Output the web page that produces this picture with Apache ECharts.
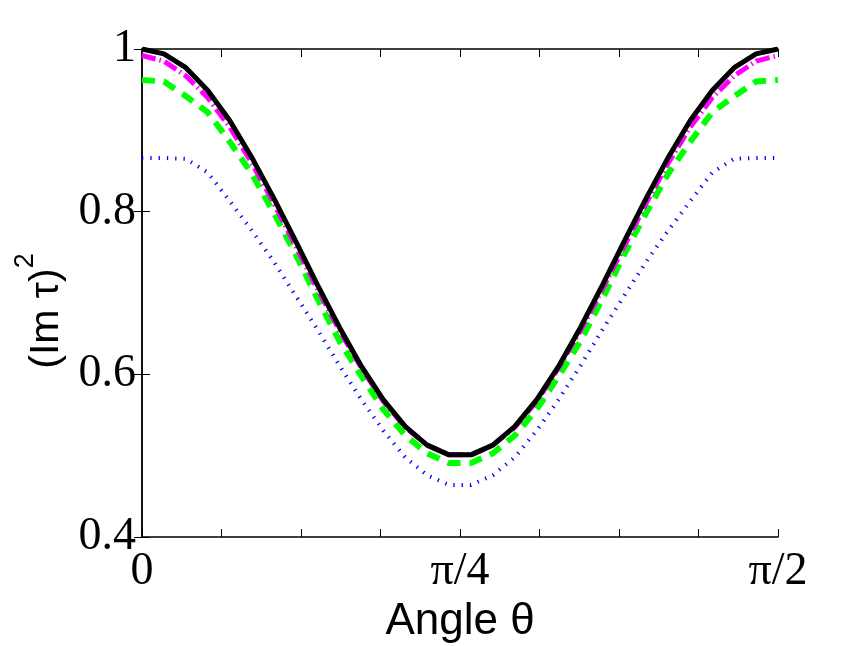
<!DOCTYPE html>
<html><head><meta charset="utf-8">
<script src="https://cdn.jsdelivr.net/npm/echarts@6/dist/echarts.min.js"></script>
<style>html,body{margin:0;padding:0;background:#fff}#c{width:858px;height:646px}</style>
</head><body><div id="c"></div>
<script>
// Sample angles (radians), 30 samples from 0 to pi/2
const theta = [0, 0.0542, 0.1083, 0.1625, 0.2167, 0.2708, 0.3250, 0.3792, 0.4333, 0.4875,
  0.5417, 0.5958, 0.6500, 0.7042, 0.7583, 0.8125, 0.8666, 0.9208, 0.9750, 1.0291,
  1.0833, 1.1375, 1.1916, 1.2458, 1.3000, 1.3541, 1.4083, 1.4625, 1.5166, 1.5708];

// (Im tau)^2 values
const blackSolid = [1.000, 0.994, 0.977, 0.949, 0.912, 0.867, 0.817, 0.764, 0.710, 0.658,
  0.610, 0.569, 0.536, 0.513, 0.501, 0.501, 0.513, 0.536, 0.569, 0.610,
  0.658, 0.710, 0.764, 0.817, 0.867, 0.912, 0.949, 0.977, 0.994, 1.000];
const magentaDashDot = [0.992, 0.985, 0.967, 0.940, 0.904, 0.860, 0.811, 0.758, 0.705, 0.654,
  0.608, 0.567, 0.535, 0.513, 0.501, 0.501, 0.513, 0.535, 0.567, 0.608,
  0.654, 0.705, 0.758, 0.811, 0.860, 0.904, 0.940, 0.967, 0.985, 0.992];
const greenDashed = [0.962, 0.960, 0.942, 0.922, 0.886, 0.847, 0.799, 0.748, 0.693, 0.641,
  0.598, 0.557, 0.525, 0.503, 0.491, 0.491, 0.503, 0.525, 0.557, 0.598,
  0.641, 0.693, 0.748, 0.799, 0.847, 0.886, 0.922, 0.942, 0.960, 0.962];
const blueDotted = [0.866, 0.866, 0.865, 0.848, 0.813, 0.777, 0.739, 0.697, 0.655, 0.611,
  0.569, 0.531, 0.498, 0.476, 0.464, 0.464, 0.476, 0.498, 0.531, 0.569,
  0.611, 0.655, 0.697, 0.739, 0.777, 0.813, 0.848, 0.865, 0.866, 0.866];

// Tick labels
const xTickLabels = ['0', 'π/4', 'π/2'];
const yTickLabels = ['0.4', '0.6', '0.8', '1'];
const xTitle = 'Angle θ';
const yTitle = '(Im τ)';

const pair = (vals) => theta.map((t, i) => [t, vals[i]]);
const XMAX = Math.PI / 2, XINT = Math.PI / 16;

function xLabel(v) {
  if (Math.abs(v) < 1e-6) return xTickLabels[0];
  if (Math.abs(v - Math.PI / 4) < 1e-6) return xTickLabels[1];
  if (Math.abs(v - Math.PI / 2) < 1e-6) return xTickLabels[2];
  return '';
}
function yLabel(v) {
  const idx = Math.round((v - 0.4) / 0.2);
  return yTickLabels[idx] !== undefined ? yTickLabels[idx] : '';
}

const serif = 'Liberation Serif';
const sans = 'Liberation Sans';
const tick = { show: true, inside: true, length: 8, lineStyle: { color: '#000', width: 1 } };
const line = { show: true, lineStyle: { color: '#000', width: 1.5 } };

const chart = echarts.init(document.getElementById('c'), null, { renderer: 'canvas' });
chart.setOption({
  backgroundColor: '#fff',
  animation: false,
  grid: { left: 142, right: 80, top: 49, bottom: 109, outerBoundsMode: 'none' },
  xAxis: [{
    type: 'value', min: 0, max: XMAX, interval: XINT,
    axisLine: line, axisTick: tick, splitLine: { show: false },
    axisLabel: { formatter: xLabel, fontFamily: serif, fontSize: 46, color: '#000', margin: 12, showMinLabel: true, showMaxLabel: true },
    name: xTitle, nameLocation: 'middle', nameGap: 56,
    nameTextStyle: { fontFamily: sans, fontSize: 44, color: '#000' }
  }, {
    type: 'value', position: 'top', min: 0, max: XMAX, interval: XINT,
    axisLine: line, axisTick: tick, axisLabel: { show: false }, splitLine: { show: false }
  }],
  yAxis: [{
    type: 'value', min: 0.4, max: 1, interval: 0.2,
    axisLine: line, axisTick: tick, splitLine: { show: false },
    axisLabel: { formatter: yLabel, fontFamily: serif, fontSize: 46, color: '#000', margin: 6 },
    name: '{b|' + yTitle + '}{s|2}', nameLocation: 'middle', nameGap: 58,
    nameTextStyle: {
      color: '#000',
      padding: [0, 36, 0, 0],
      rich: {
        b: { fontFamily: sans, fontSize: 41, color: '#000', lineHeight: 56, verticalAlign: 'bottom' },
        s: { fontFamily: sans, fontSize: 27, color: '#000', lineHeight: 27, verticalAlign: 'top' }
      }
    }
  }, {
    type: 'value', position: 'right', min: 0.4, max: 1, interval: 0.2,
    axisLine: line, axisTick: tick, axisLabel: { show: false }, splitLine: { show: false }
  }],
  series: [
    { type: 'line', data: pair(blueDotted), showSymbol: false, symbol: 'none',
      lineStyle: { color: '#0000ff', width: 4, type: [1.3, 7] } },
    { type: 'line', data: pair(greenDashed), showSymbol: false, symbol: 'none',
      lineStyle: { color: '#00ff00', width: 6, type: [13, 9] } },
    { type: 'line', data: pair(magentaDashDot), showSymbol: false, symbol: 'none',
      lineStyle: { color: '#ff00ff', width: 5, type: [14, 4, 1.5, 4] } },
    { type: 'line', data: pair(blackSolid), showSymbol: false, symbol: 'none',
      lineStyle: { color: '#000000', width: 5 } }
  ]
});
</script></body></html>
